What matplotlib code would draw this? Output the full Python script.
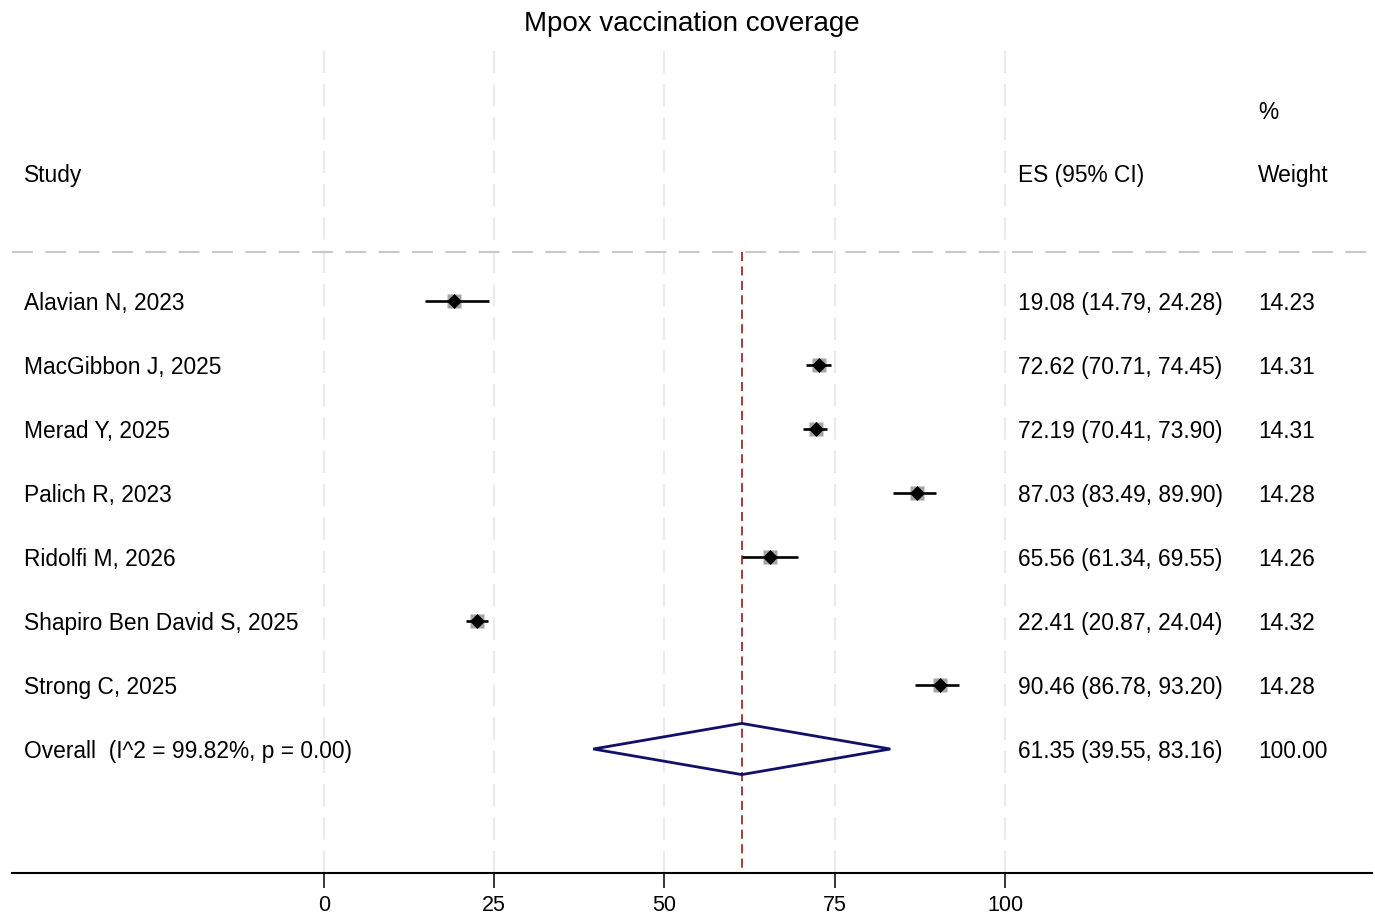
import matplotlib
matplotlib.use("Agg")
import matplotlib.pyplot as plt
from matplotlib.patches import Polygon

plt.rcParams["font.family"] = ["Liberation Sans", "DejaVu Sans"]

# data
studies = ["Alavian N, 2023", "MacGibbon J, 2025", "Merad Y, 2025", "Palich R, 2023",
           "Ridolfi M, 2026", "Shapiro Ben David S, 2025", "Strong C, 2025"]
es = [19.08, 72.62, 72.19, 87.03, 65.56, 22.41, 90.46]
lo = [14.79, 70.71, 70.41, 83.49, 61.34, 20.87, 86.78]
hi = [24.28, 74.45, 73.90, 89.90, 69.55, 24.04, 93.20]
weights = [14.23, 14.31, 14.31, 14.28, 14.26, 14.32, 14.28]
overall_es, overall_lo, overall_hi = 61.35, 39.55, 83.16
overall_weight = 100.00
overall_label = "Overall  (I^2 = 99.82%, p = 0.00)"
xticks = [0, 25, 50, 75, 100]

fig = plt.figure(figsize=(13.75, 9.14), dpi=100)
ax = fig.add_axes([12 / 1375, 41 / 914, 1360 / 1375, 828 / 914])
ax.set_xlim(-45.81, 153.89)
ax.set_ylim(8.9375, -4.0)

fs = 16.4
dy = 0.035  # small nudge so text sits centred on the rows

# grid lines
for t in xticks:
    ax.axvline(t, color="#ebebeb", lw=1.6, dashes=(10, 5), zorder=0)

# header separator
ax.axhline(-0.766, color="#c8c8c8", lw=1.5, dashes=(10, 6), zorder=1)

# overall line
ax.plot([overall_es, overall_es], [-0.766, 8.9375], color="#9b2d2d", lw=1.3,
        dashes=(5, 3), zorder=2)

# headers
ax.text(-44.05, -2.0 + dy, "Study", fontsize=fs, va="center")
ax.text(101.9, -2.0 + dy, "ES (95% CI)", fontsize=fs, va="center")
ax.text(137.2, -2.98 + dy, "%", fontsize=fs, va="center")
ax.text(137.2, -2.0 + dy, "Weight", fontsize=fs, va="center")

for i, name in enumerate(studies):
    ax.plot([lo[i], hi[i]], [i, i], color="black", lw=1.9, zorder=3,
            solid_capstyle="butt")
    ax.plot(es[i], i, marker="s", ms=weights[i] * 0.75, color="#a6a6a6",
            mec="none", zorder=2.5)
    ax.plot(es[i], i, marker="D", ms=6.8, mew=0.5, color="black", zorder=4)
    ax.text(-44.05, i + dy, name, fontsize=fs, va="center")
    ax.text(101.9, i + dy, f"{es[i]:.2f} ({lo[i]:.2f}, {hi[i]:.2f})", fontsize=fs,
            va="center")
    ax.text(137.2, i + dy, f"{weights[i]:.2f}", fontsize=fs, va="center")

n = len(studies)
diamond = Polygon([[overall_lo, n], [overall_es, n - 0.4], [overall_hi, n],
                   [overall_es, n + 0.4]], closed=True, fill=False,
                  edgecolor="#10106a", lw=2, joinstyle="miter", zorder=4)
ax.add_patch(diamond)
ax.text(-44.05, n + dy, overall_label, fontsize=fs, va="center")
ax.text(101.9, n + dy, f"{overall_es:.2f} ({overall_lo:.2f}, {overall_hi:.2f})",
        fontsize=fs, va="center")
ax.text(137.2, n + dy, f"{overall_weight:.2f}", fontsize=fs, va="center")

for s in ["top", "left", "right"]:
    ax.spines[s].set_visible(False)
ax.spines["bottom"].set_linewidth(1.5)
ax.set_yticks([])
ax.set_xticks(xticks)
ax.tick_params(axis="x", length=11, width=1.1, labelsize=15.5, pad=5)

fig.text(0.503, 1 - 24 / 914, "Mpox vaccination coverage", fontsize=20,
         ha="center", va="center")

fig.savefig("out.png", dpi=100)
